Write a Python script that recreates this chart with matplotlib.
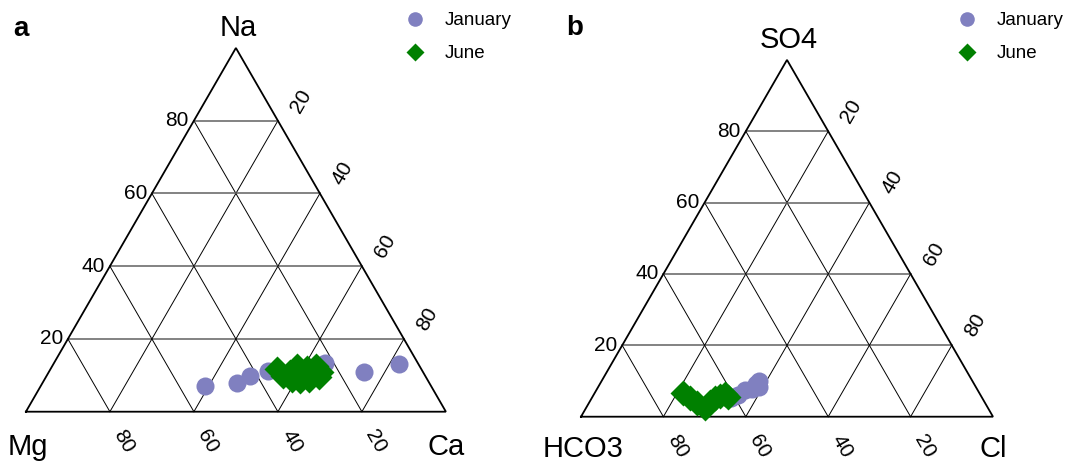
import numpy as np
import matplotlib
matplotlib.use('Agg')
import matplotlib.pyplot as plt
from matplotlib.lines import Line2D

plt.rcParams['font.family'] = ['Liberation Sans', 'DejaVu Sans']

FIG_W, FIG_H = 1070, 463
ticks = [20, 40, 60, 80]

# panel a: cations, percent (left vertex Mg, right vertex Ca, top vertex Na)
cat_names = ['Mg', 'Ca', 'Na']
jan_a_mg = [53.7, 45.9, 41.7, 36.8, 22.0, 14.1, 4.7]
jan_a_ca = [39.2, 46.3, 48.6, 51.9, 64.5, 74.9, 82.2]
jan_a_na = [7.1, 7.8, 9.7, 11.3, 13.5, 11.0, 13.1]
jun_a_mg = [34.4, 33.9, 31.7, 32.3, 29.2, 30.5, 27.1, 28.2, 26.3, 24.7, 25.5, 24.3]
jun_a_ca = [53.9, 56.3, 57.4, 59.0, 58.3, 61.1, 60.9, 63.1, 63.1, 62.8, 65.0, 64.8]
jun_a_na = [11.7, 9.8, 10.9, 8.7, 12.5, 8.4, 12.0, 8.7, 10.6, 12.5, 9.5, 10.9]

# panel b: anions, percent (left vertex HCO3, right vertex Cl, top vertex SO4)
an_names = ['HCO3', 'Cl', 'SO4']
jan_b_hco3 = [61.0, 58.8, 56.4, 54.6, 52.9, 51.8, 52.6]
jan_b_cl = [33.8, 35.1, 36.1, 37.6, 37.9, 38.2, 39.0]
jan_b_so4 = [5.2, 6.1, 7.5, 7.8, 9.2, 10.0, 8.4]
jun_b_hco3 = [71.9, 71.0, 70.0, 68.6, 66.7, 64.9, 63.3, 61.9, 61.4]
jun_b_cl = [21.5, 23.9, 26.2, 28.8, 29.3, 29.9, 30.8, 31.8, 32.9]
jun_b_so4 = [6.6, 5.2, 3.8, 2.5, 4.0, 5.2, 5.9, 6.3, 5.6]

JAN_COLOR = '#8080c0'
JUN_COLOR = '#008000'
H = np.sqrt(3) / 2


def to_xy(a, b, c):
    a, b, c = np.asarray(a, float), np.asarray(b, float), np.asarray(c, float)
    s = a + b + c
    return (b + c / 2) / s, c * H / s


def place_axes(fig, left_px, base_px, width_px, m=0.12):
    x0 = left_px - m * width_px
    x1 = left_px + (1 + m) * width_px
    y_bot = base_px + m * width_px
    y_top = base_px - (H + m) * width_px
    ax = fig.add_axes([x0 / FIG_W, 1 - y_bot / FIG_H,
                       (x1 - x0) / FIG_W, (y_bot - y_top) / FIG_H])
    ax.set_xlim(-m, 1 + m)
    ax.set_ylim(-m, H + m)
    ax.axis('off')
    return ax


def draw_ternary(ax, names, jan, jun, name_drop=43):
    # grid
    for t in ticks:
        u = 100 - t
        x, y = to_xy([u, 0], [0, u], [t, t])
        ax.plot(x, y, color='#606060', lw=1.1, zorder=1)
        x, y = to_xy([u, 0], [t, t], [0, u])
        ax.plot(x, y, color='black', lw=0.7, zorder=1)
        x, y = to_xy([t, t], [u, 0], [0, u])
        ax.plot(x, y, color='black', lw=0.7, zorder=1)
    # outline
    x, y = to_xy([100, 0, 0, 100], [0, 100, 0, 0], [0, 0, 100, 0])
    ax.plot(x, y, color='black', lw=1.3, zorder=2, solid_joinstyle='miter')

    # tick labels
    for t in ticks:
        u = 100 - t
        ax.annotate(str(t), to_xy(u, 0, t), xytext=(-5, 0), textcoords='offset pixels',
                    ha='right', va='center', fontsize=15)
        ax.annotate(str(t), to_xy(0, t, u), xytext=(23, 20), textcoords='offset pixels',
                    ha='center', va='center', fontsize=15, rotation=60)
        ax.annotate(str(t), to_xy(t, u, 0), xytext=(14, -30), textcoords='offset pixels',
                    ha='center', va='center', fontsize=15, rotation=-60)

    # vertex names
    ax.annotate(names[0], to_xy(100, 0, 0), xytext=(2, -name_drop), textcoords='offset pixels',
                ha='center', va='baseline', fontsize=21)
    ax.annotate(names[1], to_xy(0, 100, 0), xytext=(0, -name_drop), textcoords='offset pixels',
                ha='center', va='baseline', fontsize=21)
    ax.annotate(names[2], to_xy(0, 0, 100), xytext=(2, 12), textcoords='offset pixels',
                ha='center', va='baseline', fontsize=21)

    x, y = to_xy(*jan)
    ax.plot(x, y, 'o', ms=13, color=JAN_COLOR, mec='none', zorder=3)
    x, y = to_xy(*jun)
    ax.plot(x, y, 'D', ms=13, color=JUN_COLOR, mec='none', zorder=4)


def add_legend(fig, ax, x_px, y_px):
    handles = [Line2D([], [], ls='none', marker='o', ms=10.5, color=JAN_COLOR, mec='none'),
               Line2D([], [], ls='none', marker='D', ms=9, color=JUN_COLOR, mec='none')]
    ax.legend(handles, ['January', 'June'], loc='upper left',
              bbox_to_anchor=(x_px / FIG_W, 1 - y_px / FIG_H),
              bbox_transform=fig.transFigure, frameon=False, borderpad=0,
              borderaxespad=0, handlelength=2.0, handletextpad=0.62,
              labelspacing=0.85, fontsize=13.5, numpoints=1)


fig = plt.figure(figsize=(FIG_W / 100, FIG_H / 100), dpi=100)

ax_a = place_axes(fig, 25.9, 411.7, 420)
draw_ternary(ax_a, cat_names, (jan_a_mg, jan_a_ca, jan_a_na), (jun_a_mg, jun_a_ca, jun_a_na))
add_legend(fig, ax_a, 396, 12)

ax_b = place_axes(fig, 581, 416.7, 412)
draw_ternary(ax_b, an_names, (jan_b_hco3, jan_b_cl, jan_b_so4), (jun_b_hco3, jun_b_cl, jun_b_so4),
             name_drop=40)
add_legend(fig, ax_b, 948, 12)

fig.text(13 / FIG_W, 1 - 36 / FIG_H, 'a', fontsize=20, fontweight='bold', ha='left', va='baseline')
fig.text(566 / FIG_W, 1 - 35 / FIG_H, 'b', fontsize=20, fontweight='bold', ha='left', va='baseline')

fig.savefig('out.png', dpi=100)
